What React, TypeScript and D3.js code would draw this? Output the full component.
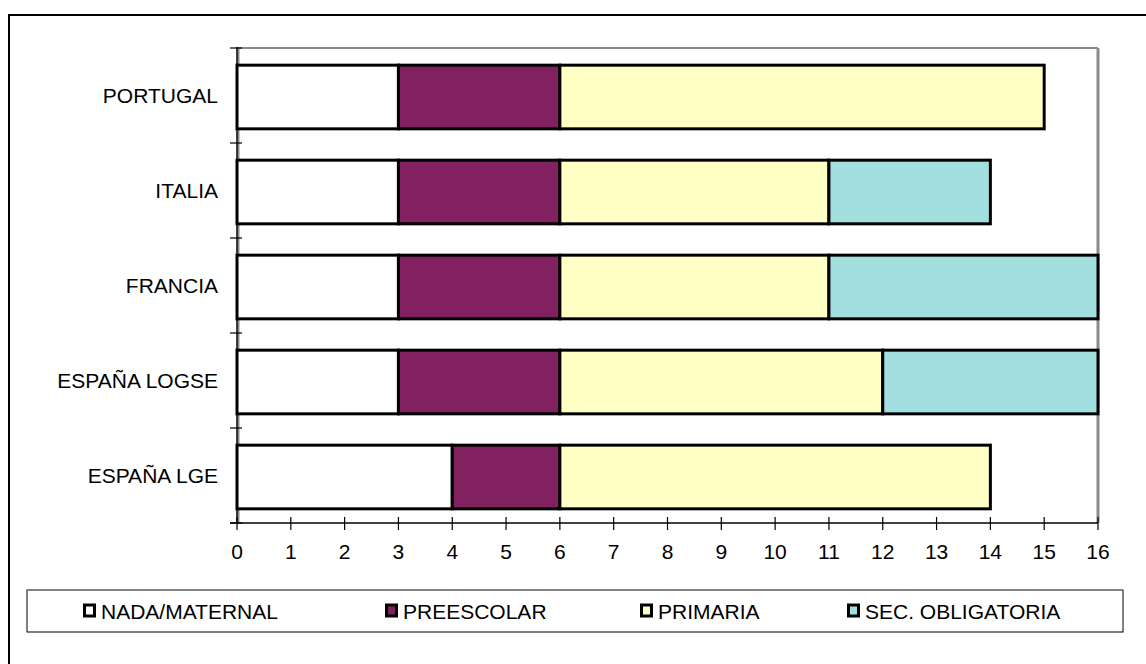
import React from "react";
import * as d3 from "d3";

const categories = ["PORTUGAL", "ITALIA", "FRANCIA", "ESPAÑA LOGSE", "ESPAÑA LGE"];
const seriesNames = ["NADA/MATERNAL", "PREESCOLAR", "PRIMARIA", "SEC. OBLIGATORIA"];
const nadaMaternal = [3, 3, 3, 3, 4];
const preescolar = [3, 3, 3, 3, 2];
const primaria = [9, 5, 5, 6, 8];
const secObligatoria = [0, 3, 5, 4, 0];
const xTicks = d3.range(0, 17);
const colors = ["#FFFFFF", "#822160", "#FFFFC6", "#A4DFE0"];

const W = 1146;
const H = 664;
const plot = { left: 237, right: 1098, top: 48, bottom: 523 };
const FONT = "'Liberation Sans', Arial, sans-serif";
const FS = 21;

export default function App() {
  const x = d3.scaleLinear().domain([0, 16]).range([plot.left, plot.right]);
  const y = d3
    .scaleBand<string>()
    .domain(categories)
    .range([plot.top, plot.bottom])
    .paddingInner(0.33)
    .paddingOuter(0.165);

  const rows = categories.map((c, i) => ({
    cat: c,
    nada: nadaMaternal[i],
    pre: preescolar[i],
    pri: primaria[i],
    sec: secObligatoria[i],
  }));
  const stack = d3.stack<any>().keys(["nada", "pre", "pri", "sec"])(rows);

  const step = y.step();
  const catTicks = d3.range(categories.length + 1).map((i) => plot.top + i * step);

  const legendX = [83, 385, 640, 847];

  return (
    <svg
      width={W}
      height={H}
      style={{ position: "absolute", left: 0, top: 0, background: "#fff" }}
      fontFamily={FONT}
    >
      {/* outer chart border */}
      <rect x={9} y={15} width={1160} height={680} fill="#fff" stroke="#000" strokeWidth={2} />

      {/* plot area frame */}
      <line x1={plot.left} x2={plot.right} y1={plot.top} y2={plot.top} stroke="#8a8a8a" strokeWidth={2} />
      <line x1={plot.right} x2={plot.right} y1={plot.top} y2={plot.bottom} stroke="#8a8a8a" strokeWidth={3} />
      <line x1={plot.left + 1.5} x2={plot.left + 1.5} y1={plot.top} y2={plot.bottom} stroke="#8a8a8a" strokeWidth={2} />

      {/* bars */}
      {stack.map((layer, si) =>
        layer.map((d, i) => {
          const w = x(d[1]) - x(d[0]);
          if (w <= 0) return null;
          return (
            <rect
              key={`${si}-${i}`}
              x={x(d[0])}
              y={(y(categories[i]) as number) + 1.5}
              width={w}
              height={y.bandwidth()}
              fill={colors[si]}
              stroke="#000"
              strokeWidth={3}
            />
          );
        })
      )}

      {/* category axis */}
      <line x1={plot.left} x2={plot.left} y1={plot.top - 1} y2={plot.bottom} stroke="#000" strokeWidth={1.5} />
      {catTicks.map((t, i) => (
        <line key={i} x1={plot.left - 7} x2={plot.left + 5} y1={t} y2={t} stroke="#000" strokeWidth={1.2} />
      ))}
      {categories.map((c) => (
        <text
          key={c}
          x={218}
          y={(y(c) as number) + y.bandwidth() / 2}
          textAnchor="end"
          dominantBaseline="central"
          fontSize={FS}
          fill="#000"
        >
          {c}
        </text>
      ))}

      {/* value axis */}
      <line x1={plot.left - 7} x2={plot.right} y1={plot.bottom} y2={plot.bottom} stroke="#000" strokeWidth={1.5} />
      {xTicks.map((t) => (
        <g key={t}>
          <line x1={x(t)} x2={x(t)} y1={plot.bottom - 6} y2={plot.bottom + 7} stroke="#000" strokeWidth={1.2} />
          <text x={x(t)} y={plot.bottom + 28} textAnchor="middle" dominantBaseline="central" fontSize={FS} fill="#000">
            {t}
          </text>
        </g>
      ))}

      {/* legend */}
      <rect x={27} y={590} width={1096} height={42} fill="#fff" stroke="#000" strokeWidth={1} />
      <line x1={27} x2={1123} y1={590} y2={590} stroke="#8a8a8a" strokeWidth={1} />
      {seriesNames.map((s, i) => (
        <g key={s}>
          <rect x={legendX[i] + 1.5} y={605} width={10} height={11} fill={colors[i]} stroke="#000" strokeWidth={3} />
          <text x={legendX[i] + 18} y={611} dominantBaseline="central" fontSize={FS} fill="#000">
            {s}
          </text>
        </g>
      ))}
    </svg>
  );
}
